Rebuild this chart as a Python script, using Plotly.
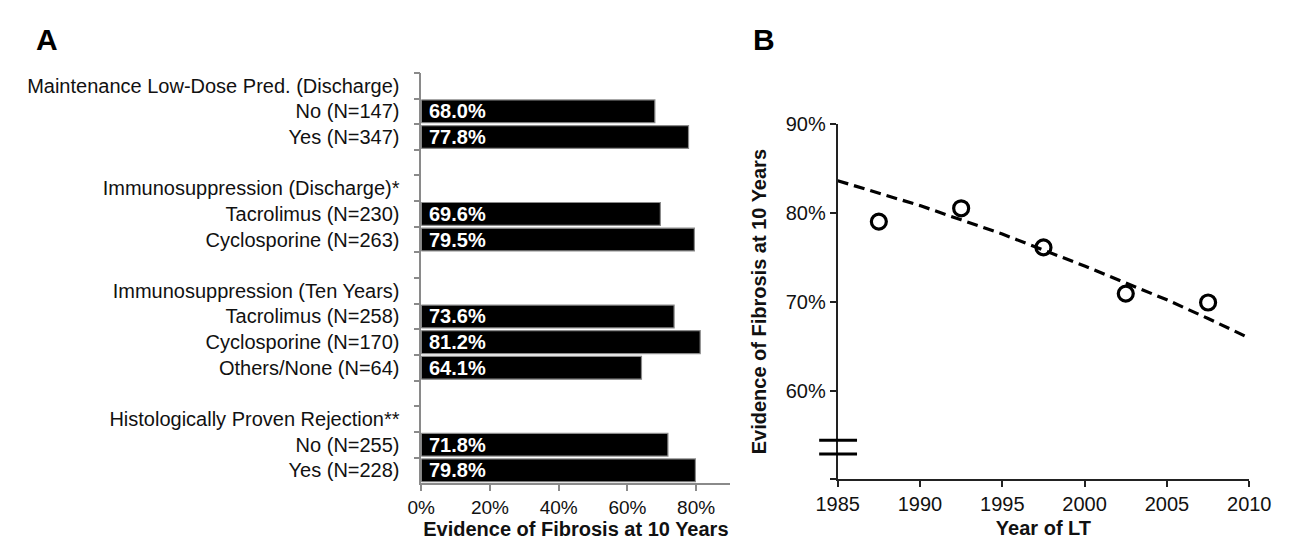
import plotly.graph_objects as go

# ---------------- Panel A data ----------------
categories = [
    "Maintenance Low-Dose Pred. (Discharge)",
    "No (N=147)",
    "Yes (N=347)",
    " ",
    "Immunosuppression (Discharge)*",
    "Tacrolimus (N=230)",
    "Cyclosporine (N=263)",
    "  ",
    "Immunosuppression (Ten Years)",
    "Tacrolimus (N=258)",
    "Cyclosporine (N=170)",
    "Others/None (N=64)",
    "   ",
    "Histologically Proven Rejection**",
    "No (N=255)",
    "Yes (N=228)",
]
fibrosis_pct = [None, 68.0, 77.8, None, None, 69.6, 79.5, None, None,
                73.6, 81.2, 64.1, None, None, 71.8, 79.8]
x_ticks_a = [0, 0.2, 0.4, 0.6, 0.8]

# ---------------- Panel B data ----------------
years = [1987.5, 1992.5, 1997.5, 2002.5, 2007.5]
fibrosis_by_year = [0.790, 0.805, 0.761, 0.709, 0.699]
trend_years = [1985, 1987.5, 1990, 1992.5, 1995, 1997.5, 2000, 2002.5, 2005, 2007.5, 2010]
trend_pct = [0.836, 0.822, 0.808, 0.792, 0.776, 0.758, 0.740, 0.721, 0.702, 0.681, 0.659]
x_ticks_b = [1985, 1990, 1995, 2000, 2005, 2010]
y_ticks_b = [0.5, 0.6, 0.7, 0.8, 0.9]
y_ticktext_b = ["", "60%", "70%", "80%", "90%"]

FONT = "Liberation Sans, Arial, sans-serif"

fig = go.Figure()

bar_x = [v / 100 if v is not None else None for v in fibrosis_pct]
fig.add_trace(go.Bar(
    x=bar_x, y=categories, orientation="h",
    marker=dict(color="black", line=dict(color="#8a8a8a", width=1.2)),
    width=0.89, xaxis="x", yaxis="y", showlegend=False, hoverinfo="skip",
))

annotations = []
for cat, v in zip(categories, fibrosis_pct):
    if v is None:
        continue
    annotations.append(dict(
        x=0, y=cat, xref="x", yref="y", xanchor="left", yanchor="middle",
        xshift=6, text=f"<b>{v:.1f}%</b>", showarrow=False,
        font=dict(family=FONT, size=20, color="white"),
    ))

fig.add_trace(go.Scatter(
    x=trend_years, y=trend_pct, mode="lines",
    line=dict(color="black", width=3.2, dash="11px,6px"),
    xaxis="x2", yaxis="y2", showlegend=False, hoverinfo="skip",
))
fig.add_trace(go.Scatter(
    x=years, y=fibrosis_by_year, mode="markers",
    marker=dict(symbol="circle-open", size=15, color="black",
                line=dict(width=3.2, color="black")),
    xaxis="x2", yaxis="y2", showlegend=False, hoverinfo="skip",
))

annotations += [
    dict(x=4 / 1299, y=1 - 2 / 540, xref="paper", yref="paper", xanchor="left",
         yanchor="top", text="<b>A</b>", showarrow=False,
         font=dict(family=FONT, size=30, color="black")),
    dict(x=746 / 1299, y=1 - 2 / 540, xref="paper", yref="paper", xanchor="left",
         yanchor="top", text="<b>B</b>", showarrow=False,
         font=dict(family=FONT, size=30, color="black")),
]

shapes = []
for yv in [0.5441, 0.5287]:
    shapes.append(dict(type="line", xref="x2 domain", yref="y2",
                       x0=-0.045, x1=0.047, y0=yv, y1=yv,
                       line=dict(color="black", width=3)))

fig.update_layout(
    width=1299, height=540,
    margin=dict(l=0, r=0, t=0, b=0),
    paper_bgcolor="white", plot_bgcolor="white",
    font=dict(family=FONT, size=20, color="#111"),
    bargap=0.11,
    annotations=annotations,
    shapes=shapes,
    xaxis=dict(
        domain=[405 / 1299, 725 / 1299], range=[0, 0.9],
        tickvals=x_ticks_a, tickformat=".0%",
        showline=True, linecolor="#8a8a8a", linewidth=1.5,
        ticks="outside", ticklen=6, tickcolor="#8a8a8a", tickwidth=1.5,
        showgrid=False, zeroline=False, anchor="y",
        tickfont=dict(size=19, color="#111"),
        title=dict(text="<b>Evidence of Fibrosis at 10 Years</b>",
                   font=dict(size=20, color="#111"), standoff=3),
    ),
    yaxis=dict(
        domain=[66 / 540, 485 / 540], type="category",
        categoryorder="array", categoryarray=categories,
        autorange="reversed",
        showline=True, linecolor="#8a8a8a", linewidth=1.5,
        ticks="outside", ticklen=6, tickcolor="#8a8a8a", tickwidth=1.5,
        tickson="boundaries", showgrid=False, zeroline=False, anchor="x",
        tickfont=dict(size=20, color="#111"), ticklabelstandoff=16,
    ),
    xaxis2=dict(
        domain=[836 / 1299, 1262 / 1299], range=[1985, 2010],
        tickvals=x_ticks_b,
        showline=True, linecolor="#222", linewidth=2,
        ticks="outside", ticklen=6, tickcolor="#222", tickwidth=2,
        showgrid=False, zeroline=False, anchor="y2",
        tickfont=dict(size=20, color="#111"),
        title=dict(text="<b>Year of LT</b>", font=dict(size=20, color="#111"),
                   standoff=7),
    ),
    yaxis2=dict(
        domain=[70 / 540, 433 / 540], range=[0.5, 0.9],
        tickvals=y_ticks_b, ticktext=y_ticktext_b,
        showline=True, linecolor="#222", linewidth=2,
        ticks="outside", ticklen=6, tickcolor="#222", tickwidth=2,
        showgrid=False, zeroline=False, anchor="x2",
        tickfont=dict(size=20, color="#111"),
        title=dict(text="<b>Evidence of Fibrosis at 10 Years</b>",
                   font=dict(size=20, color="#111"), standoff=14),
    ),
)

fig.write_html("out.html")
